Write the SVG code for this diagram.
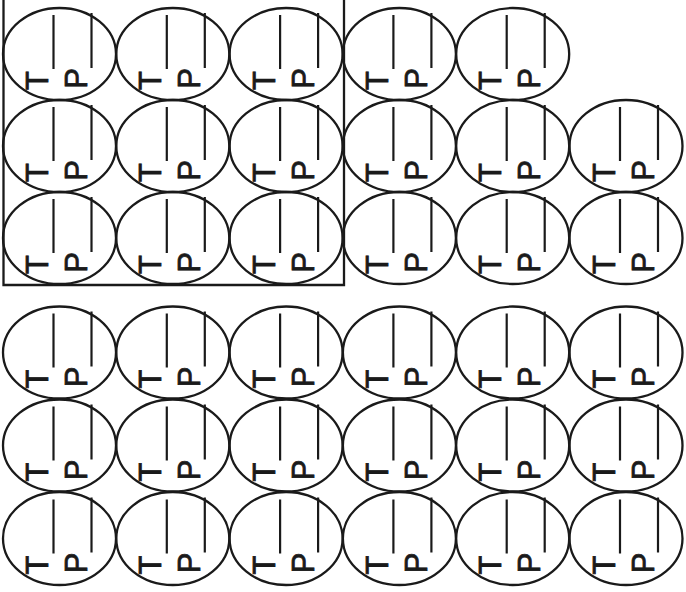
<svg xmlns="http://www.w3.org/2000/svg" width="686" height="592" viewBox="0 0 686 592">
<style>
.e{fill:none;stroke:#1a1a1a;stroke-width:2.3}
.l{stroke:#1a1a1a;stroke-width:2.2}
.t{font-family:"Liberation Sans",Arial,sans-serif;font-size:31px;fill:#1a1a1a;stroke:#1a1a1a;stroke-width:0.8;text-anchor:middle}
.frame{fill:none;stroke:#1a1a1a;stroke-width:2.3}
</style>
<rect width="686" height="592" fill="#ffffff"/>
<path class="frame" d="M3.5,-2 V285 H344 V-2"/>
<g id="r1c1" transform="translate(59.5,54)"><ellipse class="e" rx="56.5" ry="46"/><line class="l" x1="-6" y1="-39" x2="-6" y2="15"/><line class="l" x1="32" y1="-41" x2="32" y2="14"/><text class="t" transform="translate(-11.5,26.5) rotate(-90)">T</text><text class="t" transform="translate(27.5,24.5) rotate(-90)">P</text></g>
<g id="r1c2" transform="translate(172.8,54)"><ellipse class="e" rx="56.5" ry="46"/><line class="l" x1="-6" y1="-39" x2="-6" y2="15"/><line class="l" x1="32" y1="-41" x2="32" y2="14"/><text class="t" transform="translate(-11.5,26.5) rotate(-90)">T</text><text class="t" transform="translate(27.5,24.5) rotate(-90)">P</text></g>
<g id="r1c3" transform="translate(286.1,54)"><ellipse class="e" rx="56.5" ry="46"/><line class="l" x1="-6" y1="-39" x2="-6" y2="15"/><line class="l" x1="32" y1="-41" x2="32" y2="14"/><text class="t" transform="translate(-11.5,26.5) rotate(-90)">T</text><text class="t" transform="translate(27.5,24.5) rotate(-90)">P</text></g>
<g id="r1c4" transform="translate(399.4,54)"><ellipse class="e" rx="56.5" ry="46"/><line class="l" x1="-6" y1="-39" x2="-6" y2="15"/><line class="l" x1="32" y1="-41" x2="32" y2="14"/><text class="t" transform="translate(-11.5,26.5) rotate(-90)">T</text><text class="t" transform="translate(27.5,24.5) rotate(-90)">P</text></g>
<g id="r1c5" transform="translate(512.7,54)"><ellipse class="e" rx="56.5" ry="46"/><line class="l" x1="-6" y1="-39" x2="-6" y2="15"/><line class="l" x1="32" y1="-41" x2="32" y2="14"/><text class="t" transform="translate(-11.5,26.5) rotate(-90)">T</text><text class="t" transform="translate(27.5,24.5) rotate(-90)">P</text></g>
<g id="r2c1" transform="translate(59.5,146)"><ellipse class="e" rx="56.5" ry="46"/><line class="l" x1="-6" y1="-39" x2="-6" y2="15"/><line class="l" x1="32" y1="-41" x2="32" y2="14"/><text class="t" transform="translate(-11.5,26.5) rotate(-90)">T</text><text class="t" transform="translate(27.5,24.5) rotate(-90)">P</text></g>
<g id="r2c2" transform="translate(172.8,146)"><ellipse class="e" rx="56.5" ry="46"/><line class="l" x1="-6" y1="-39" x2="-6" y2="15"/><line class="l" x1="32" y1="-41" x2="32" y2="14"/><text class="t" transform="translate(-11.5,26.5) rotate(-90)">T</text><text class="t" transform="translate(27.5,24.5) rotate(-90)">P</text></g>
<g id="r2c3" transform="translate(286.1,146)"><ellipse class="e" rx="56.5" ry="46"/><line class="l" x1="-6" y1="-39" x2="-6" y2="15"/><line class="l" x1="32" y1="-41" x2="32" y2="14"/><text class="t" transform="translate(-11.5,26.5) rotate(-90)">T</text><text class="t" transform="translate(27.5,24.5) rotate(-90)">P</text></g>
<g id="r2c4" transform="translate(399.4,146)"><ellipse class="e" rx="56.5" ry="46"/><line class="l" x1="-6" y1="-39" x2="-6" y2="15"/><line class="l" x1="32" y1="-41" x2="32" y2="14"/><text class="t" transform="translate(-11.5,26.5) rotate(-90)">T</text><text class="t" transform="translate(27.5,24.5) rotate(-90)">P</text></g>
<g id="r2c5" transform="translate(512.7,146)"><ellipse class="e" rx="56.5" ry="46"/><line class="l" x1="-6" y1="-39" x2="-6" y2="15"/><line class="l" x1="32" y1="-41" x2="32" y2="14"/><text class="t" transform="translate(-11.5,26.5) rotate(-90)">T</text><text class="t" transform="translate(27.5,24.5) rotate(-90)">P</text></g>
<g id="r2c6" transform="translate(626,146)"><ellipse class="e" rx="56.5" ry="46"/><line class="l" x1="-6" y1="-39" x2="-6" y2="15"/><line class="l" x1="32" y1="-41" x2="32" y2="14"/><text class="t" transform="translate(-11.5,26.5) rotate(-90)">T</text><text class="t" transform="translate(27.5,24.5) rotate(-90)">P</text></g>
<g id="r3c1" transform="translate(59.5,238)"><ellipse class="e" rx="56.5" ry="46"/><line class="l" x1="-6" y1="-39" x2="-6" y2="15"/><line class="l" x1="32" y1="-41" x2="32" y2="14"/><text class="t" transform="translate(-11.5,26.5) rotate(-90)">T</text><text class="t" transform="translate(27.5,24.5) rotate(-90)">P</text></g>
<g id="r3c2" transform="translate(172.8,238)"><ellipse class="e" rx="56.5" ry="46"/><line class="l" x1="-6" y1="-39" x2="-6" y2="15"/><line class="l" x1="32" y1="-41" x2="32" y2="14"/><text class="t" transform="translate(-11.5,26.5) rotate(-90)">T</text><text class="t" transform="translate(27.5,24.5) rotate(-90)">P</text></g>
<g id="r3c3" transform="translate(286.1,238)"><ellipse class="e" rx="56.5" ry="46"/><line class="l" x1="-6" y1="-39" x2="-6" y2="15"/><line class="l" x1="32" y1="-41" x2="32" y2="14"/><text class="t" transform="translate(-11.5,26.5) rotate(-90)">T</text><text class="t" transform="translate(27.5,24.5) rotate(-90)">P</text></g>
<g id="r3c4" transform="translate(399.4,238)"><ellipse class="e" rx="56.5" ry="46"/><line class="l" x1="-6" y1="-39" x2="-6" y2="15"/><line class="l" x1="32" y1="-41" x2="32" y2="14"/><text class="t" transform="translate(-11.5,26.5) rotate(-90)">T</text><text class="t" transform="translate(27.5,24.5) rotate(-90)">P</text></g>
<g id="r3c5" transform="translate(512.7,238)"><ellipse class="e" rx="56.5" ry="46"/><line class="l" x1="-6" y1="-39" x2="-6" y2="15"/><line class="l" x1="32" y1="-41" x2="32" y2="14"/><text class="t" transform="translate(-11.5,26.5) rotate(-90)">T</text><text class="t" transform="translate(27.5,24.5) rotate(-90)">P</text></g>
<g id="r3c6" transform="translate(626,238)"><ellipse class="e" rx="56.5" ry="46"/><line class="l" x1="-6" y1="-39" x2="-6" y2="15"/><line class="l" x1="32" y1="-41" x2="32" y2="14"/><text class="t" transform="translate(-11.5,26.5) rotate(-90)">T</text><text class="t" transform="translate(27.5,24.5) rotate(-90)">P</text></g>
<g id="r4c1" transform="translate(59.5,352.5)"><ellipse class="e" rx="56.5" ry="46"/><line class="l" x1="-6" y1="-39" x2="-6" y2="15"/><line class="l" x1="32" y1="-41" x2="32" y2="14"/><text class="t" transform="translate(-11.5,26.5) rotate(-90)">T</text><text class="t" transform="translate(27.5,24.5) rotate(-90)">P</text></g>
<g id="r4c2" transform="translate(172.8,352.5)"><ellipse class="e" rx="56.5" ry="46"/><line class="l" x1="-6" y1="-39" x2="-6" y2="15"/><line class="l" x1="32" y1="-41" x2="32" y2="14"/><text class="t" transform="translate(-11.5,26.5) rotate(-90)">T</text><text class="t" transform="translate(27.5,24.5) rotate(-90)">P</text></g>
<g id="r4c3" transform="translate(286.1,352.5)"><ellipse class="e" rx="56.5" ry="46"/><line class="l" x1="-6" y1="-39" x2="-6" y2="15"/><line class="l" x1="32" y1="-41" x2="32" y2="14"/><text class="t" transform="translate(-11.5,26.5) rotate(-90)">T</text><text class="t" transform="translate(27.5,24.5) rotate(-90)">P</text></g>
<g id="r4c4" transform="translate(399.4,352.5)"><ellipse class="e" rx="56.5" ry="46"/><line class="l" x1="-6" y1="-39" x2="-6" y2="15"/><line class="l" x1="32" y1="-41" x2="32" y2="14"/><text class="t" transform="translate(-11.5,26.5) rotate(-90)">T</text><text class="t" transform="translate(27.5,24.5) rotate(-90)">P</text></g>
<g id="r4c5" transform="translate(512.7,352.5)"><ellipse class="e" rx="56.5" ry="46"/><line class="l" x1="-6" y1="-39" x2="-6" y2="15"/><line class="l" x1="32" y1="-41" x2="32" y2="14"/><text class="t" transform="translate(-11.5,26.5) rotate(-90)">T</text><text class="t" transform="translate(27.5,24.5) rotate(-90)">P</text></g>
<g id="r4c6" transform="translate(626,352.5)"><ellipse class="e" rx="56.5" ry="46"/><line class="l" x1="-6" y1="-39" x2="-6" y2="15"/><line class="l" x1="32" y1="-41" x2="32" y2="14"/><text class="t" transform="translate(-11.5,26.5) rotate(-90)">T</text><text class="t" transform="translate(27.5,24.5) rotate(-90)">P</text></g>
<g id="r5c1" transform="translate(59.5,445.5)"><ellipse class="e" rx="56.5" ry="46"/><line class="l" x1="-6" y1="-39" x2="-6" y2="15"/><line class="l" x1="32" y1="-41" x2="32" y2="14"/><text class="t" transform="translate(-11.5,26.5) rotate(-90)">T</text><text class="t" transform="translate(27.5,24.5) rotate(-90)">P</text></g>
<g id="r5c2" transform="translate(172.8,445.5)"><ellipse class="e" rx="56.5" ry="46"/><line class="l" x1="-6" y1="-39" x2="-6" y2="15"/><line class="l" x1="32" y1="-41" x2="32" y2="14"/><text class="t" transform="translate(-11.5,26.5) rotate(-90)">T</text><text class="t" transform="translate(27.5,24.5) rotate(-90)">P</text></g>
<g id="r5c3" transform="translate(286.1,445.5)"><ellipse class="e" rx="56.5" ry="46"/><line class="l" x1="-6" y1="-39" x2="-6" y2="15"/><line class="l" x1="32" y1="-41" x2="32" y2="14"/><text class="t" transform="translate(-11.5,26.5) rotate(-90)">T</text><text class="t" transform="translate(27.5,24.5) rotate(-90)">P</text></g>
<g id="r5c4" transform="translate(399.4,445.5)"><ellipse class="e" rx="56.5" ry="46"/><line class="l" x1="-6" y1="-39" x2="-6" y2="15"/><line class="l" x1="32" y1="-41" x2="32" y2="14"/><text class="t" transform="translate(-11.5,26.5) rotate(-90)">T</text><text class="t" transform="translate(27.5,24.5) rotate(-90)">P</text></g>
<g id="r5c5" transform="translate(512.7,445.5)"><ellipse class="e" rx="56.5" ry="46"/><line class="l" x1="-6" y1="-39" x2="-6" y2="15"/><line class="l" x1="32" y1="-41" x2="32" y2="14"/><text class="t" transform="translate(-11.5,26.5) rotate(-90)">T</text><text class="t" transform="translate(27.5,24.5) rotate(-90)">P</text></g>
<g id="r5c6" transform="translate(626,445.5)"><ellipse class="e" rx="56.5" ry="46"/><line class="l" x1="-6" y1="-39" x2="-6" y2="15"/><line class="l" x1="32" y1="-41" x2="32" y2="14"/><text class="t" transform="translate(-11.5,26.5) rotate(-90)">T</text><text class="t" transform="translate(27.5,24.5) rotate(-90)">P</text></g>
<g id="r6c1" transform="translate(59.5,538.5)"><ellipse class="e" rx="56.5" ry="46.5"/><line class="l" x1="-6" y1="-39" x2="-6" y2="15"/><line class="l" x1="32" y1="-41" x2="32" y2="14"/><text class="t" transform="translate(-11.5,26.5) rotate(-90)">T</text><text class="t" transform="translate(27.5,24.5) rotate(-90)">P</text></g>
<g id="r6c2" transform="translate(172.8,538.5)"><ellipse class="e" rx="56.5" ry="46.5"/><line class="l" x1="-6" y1="-39" x2="-6" y2="15"/><line class="l" x1="32" y1="-41" x2="32" y2="14"/><text class="t" transform="translate(-11.5,26.5) rotate(-90)">T</text><text class="t" transform="translate(27.5,24.5) rotate(-90)">P</text></g>
<g id="r6c3" transform="translate(286.1,538.5)"><ellipse class="e" rx="56.5" ry="46.5"/><line class="l" x1="-6" y1="-39" x2="-6" y2="15"/><line class="l" x1="32" y1="-41" x2="32" y2="14"/><text class="t" transform="translate(-11.5,26.5) rotate(-90)">T</text><text class="t" transform="translate(27.5,24.5) rotate(-90)">P</text></g>
<g id="r6c4" transform="translate(399.4,538.5)"><ellipse class="e" rx="56.5" ry="46.5"/><line class="l" x1="-6" y1="-39" x2="-6" y2="15"/><line class="l" x1="32" y1="-41" x2="32" y2="14"/><text class="t" transform="translate(-11.5,26.5) rotate(-90)">T</text><text class="t" transform="translate(27.5,24.5) rotate(-90)">P</text></g>
<g id="r6c5" transform="translate(512.7,538.5)"><ellipse class="e" rx="56.5" ry="46.5"/><line class="l" x1="-6" y1="-39" x2="-6" y2="15"/><line class="l" x1="32" y1="-41" x2="32" y2="14"/><text class="t" transform="translate(-11.5,26.5) rotate(-90)">T</text><text class="t" transform="translate(27.5,24.5) rotate(-90)">P</text></g>
<g id="r6c6" transform="translate(626,538.5)"><ellipse class="e" rx="56.5" ry="46.5"/><line class="l" x1="-6" y1="-39" x2="-6" y2="15"/><line class="l" x1="32" y1="-41" x2="32" y2="14"/><text class="t" transform="translate(-11.5,26.5) rotate(-90)">T</text><text class="t" transform="translate(27.5,24.5) rotate(-90)">P</text></g>
</svg>
